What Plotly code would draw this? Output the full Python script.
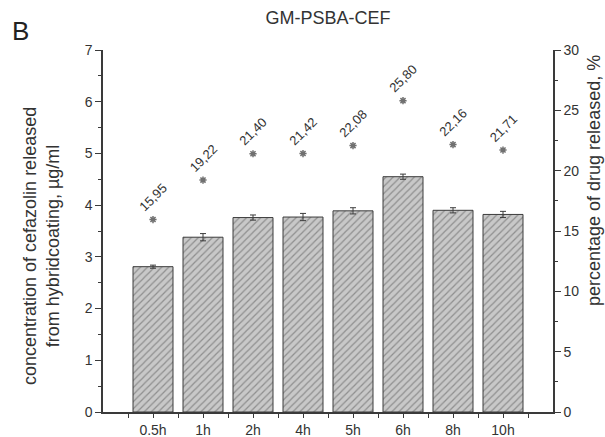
import plotly.graph_objects as go

categories = ["0.5h", "1h", "2h", "4h", "5h", "6h", "8h", "10h"]
concentration = [2.81, 3.38, 3.76, 3.77, 3.89, 4.55, 3.90, 3.82]
conc_err = [0.03, 0.07, 0.05, 0.07, 0.06, 0.05, 0.05, 0.06]
percent = [15.95, 19.22, 21.40, 21.42, 22.08, 25.80, 22.16, 21.71]
percent_labels = ["15,95", "19,22", "21,40", "21,42", "22,08", "25,80", "22,16", "21,71"]

xpos = list(range(len(categories)))
axis_col = "#3a3a3a"
txt_col = "#333333"
FONT = "Liberation Sans, Arial, sans-serif"

fig = go.Figure()
fig.add_trace(go.Bar(
    x=xpos, y=concentration, width=0.8,
    marker=dict(color="#c8c8c8", line=dict(color="#3c3c3c", width=1),
                pattern=dict(shape="/", fgcolor="#555555", bgcolor="#c8c8c8", size=5, solidity=0.25)),
    error_y=dict(type="data", array=conc_err, color="#3c3c3c", thickness=1, width=3),
    showlegend=False,
))
fig.add_trace(go.Scatter(
    x=xpos, y=percent, yaxis="y2", mode="markers",
    marker=dict(symbol="asterisk-open", size=6, color="#707070", line=dict(color="#707070", width=1.5)),
    showlegend=False,
))

for i, (p, lab) in enumerate(zip(percent, percent_labels)):
    fig.add_annotation(x=xpos[i], y=p, xref="x", yref="y2", text=lab, textangle=-45,
                       showarrow=False, yshift=22, font=dict(size=13, color=txt_col, family=FONT))

# panel letter
fig.add_annotation(x=0.0, y=1.0, xref="paper", yref="paper", text="B", showarrow=False,
                   xanchor="left", yanchor="top", xshift=-93, yshift=36,
                   font=dict(size=26, color="#222222", family=FONT))
# left axis title
fig.add_annotation(x=0.0, y=0.5, xref="paper", yref="paper", textangle=-90, showarrow=False,
                   text="concentration of cefazolin released<br>from hybridcoating, µg/ml",
                   xanchor="center", yanchor="middle", xshift=-62, yshift=-15,
                   font=dict(size=18, color=txt_col, family=FONT))
# right axis title
fig.add_annotation(x=1.0, y=0.5, xref="paper", yref="paper", textangle=-90, showarrow=False,
                   text="percentage of drug released, %",
                   xanchor="center", yanchor="middle", xshift=41, yshift=50,
                   font=dict(size=18, color=txt_col, family=FONT))

fig.update_layout(
    width=605, height=437,
    margin=dict(l=103, r=52, t=50, b=25),
    paper_bgcolor="white", plot_bgcolor="white",
    font=dict(family=FONT, color=txt_col, size=14),
    title=dict(text="GM-PSBA-CEF", xref="paper", x=0.5, xanchor="center", y=0.959, yanchor="middle",
               font=dict(size=18, color=txt_col)),
    xaxis=dict(range=[-1, 8], tickvals=xpos, ticktext=categories, showline=True, automargin=False,
               linecolor=axis_col, linewidth=1.5, ticks="outside", ticklen=4, tickcolor=axis_col,
               showgrid=False, zeroline=False, tickfont=dict(size=14), ticklabelstandoff=0,
               minor=dict(tick0=-0.5, dtick=1, ticks="outside", ticklen=4, tickcolor=axis_col, showgrid=False)),
    yaxis=dict(range=[0, 7], dtick=1, showline=True, linecolor=axis_col, linewidth=1.5, automargin=False,
               ticks="outside", ticklen=6, tickcolor=axis_col, showgrid=False, zeroline=False,
               tickfont=dict(size=14),
               minor=dict(dtick=0.5, ticks="outside", ticklen=3, tickcolor=axis_col, showgrid=False)),
    yaxis2=dict(range=[0, 30], dtick=5, overlaying="y", side="right", showline=True, automargin=False,
                linecolor=axis_col, linewidth=1.5, ticks="outside", ticklen=6, tickcolor=axis_col,
                showgrid=False, zeroline=False, tickfont=dict(size=14),
                minor=dict(dtick=2.5, ticks="outside", ticklen=3, tickcolor=axis_col, showgrid=False)),
)

fig.write_html("out.html", config={"displayModeBar": False},
               post_script="document.body.style.margin='0';document.body.style.overflow='hidden';")
